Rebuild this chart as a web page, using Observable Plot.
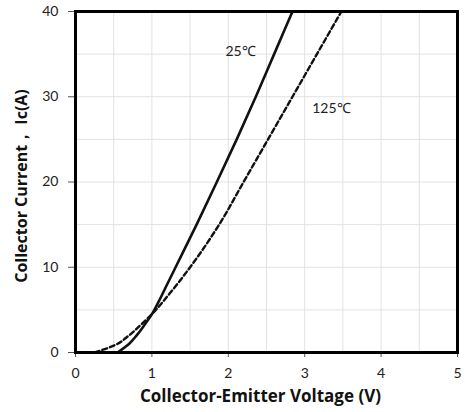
<!DOCTYPE html>
<html><head><meta charset="utf-8">
<script src="https://cdn.jsdelivr.net/npm/d3@7"></script>
<script src="https://cdn.jsdelivr.net/npm/@observablehq/plot@0.6"></script>
<style>
body{margin:0;background:#fff}
#chart svg{font-family:Lato,"Open Sans",sans-serif;background:#fff}
</style>
</head><body><div id="chart"></div>
<script>
// 25°C curve (solid)
const vce25 = [0.55, 0.70, 0.80, 0.90, 1.00, 1.09, 1.20, 1.31, 1.585, 1.85, 2.11, 2.36, 2.60, 2.84];
const ic25  = [0,    1.0,  2.0,  3.2,  4.5,  6.0,  8.0,  10,   15,    20,   25,   30,   35,   40];
// 125°C curve (dashed)
const vce125 = [0.25, 0.50, 0.70, 0.85, 1.00, 1.24, 1.50, 1.88, 2.20, 2.52, 2.84, 3.16, 3.48];
const ic125  = [0,    0.8,  2.0,  3.2,  4.5,  7.0,  10,   15,   20,   25,   30,   35,   40];
// tick labels and grid
const xTicks = [0, 1, 2, 3, 4, 5];
const yTicks = [0, 10, 20, 30, 40];
const xGrid = [0.5, 1, 1.5, 2, 2.5, 3, 3.5, 4, 4.5];
const yGrid = [5, 10, 15, 20, 25, 30, 35];
// curve labels
const curveNames = ["25\u2103", "125\u2103"];
const labelV = [2.16, 3.35];
const labelI = [35.3, 28.6];

const s25 = vce25.map((v, i) => ({v, i: ic25[i]}));
const s125 = vce125.map((v, i) => ({v, i: ic125[i]}));
const labels = curveNames.map((t, k) => ({t, v: labelV[k], i: labelI[k]}));

const chart = Plot.plot({
  width: 465, height: 412,
  marginLeft: 75, marginRight: 8, marginTop: 11, marginBottom: 60,
  x: {domain: [0, 5]},
  y: {domain: [0, 40]},
  style: {fontSize: "14px", color: "#222"},
  marks: [
    Plot.gridX(xGrid, {stroke: "#e2e2e2", strokeOpacity: 1, strokeWidth: 1}),
    Plot.gridY(yGrid, {stroke: "#e2e2e2", strokeOpacity: 1, strokeWidth: 1}),
    Plot.axisX(xTicks, {tickSize: 5, tickPadding: 11, label: null, fontSize: 14, stroke: "#555"}),
    Plot.axisY(yTicks, {tickSize: 7, tickPadding: 10, label: null, fontSize: 14, stroke: "#555"}),
    Plot.line(s125, {x: "v", y: "i", curve: "monotone-y", stroke: "#111", strokeWidth: 2.4, strokeDasharray: "5,3"}),
    Plot.line(s25, {x: "v", y: "i", curve: "monotone-y", stroke: "#111", strokeWidth: 2.6}),
    Plot.text(labels, {x: "v", y: "i", text: "t", fontSize: 14, fill: "#222"}),
    Plot.text(["Collector-Emitter Voltage (V)"], {frameAnchor: "bottom", dy: 49, dx: -6, fontSize: 17, fontWeight: "bold", fontFamily: "Open Sans", fill: "#111"}),
    Plot.text(["Collector Current\uFF0C Ic(A)"], {frameAnchor: "left", textAnchor: "middle", dx: -54, dy: 4, rotate: -90, fontSize: 16, fontWeight: "bold", fontFamily: "Open Sans", fill: "#111"}),
    Plot.frame({stroke: "#000", strokeWidth: 3})
  ]
});
document.getElementById("chart").appendChild(chart);
</script>
</body></html>
